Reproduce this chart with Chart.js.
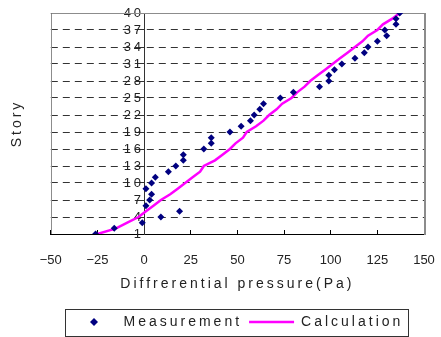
<!DOCTYPE html>
<html>
<head>
<meta charset="utf-8">
<script src="https://cdn.jsdelivr.net/npm/chart.js@4/dist/chart.umd.min.js"></script>
<style>
  body { margin: 0; background: #fff; }
</style>
</head>
<body>
<canvas id="c" width="441" height="337"></canvas>
<script>
const stories = [1, 2, 3, 4, 5, 6, 7, 8, 9, 10, 11, 12, 13, 14, 15, 16, 17, 18, 19, 20,
	21, 22, 23, 24, 25, 26, 27, 28, 29, 30, 31, 32, 33, 34, 35, 36, 37, 38, 39, 40];
const measured = [-26, -16, -1, 9, 19, 1, 3, 4, 1, 4, 6, 13, 17, 21, 21, 32, 36, 36, 46, 52,
	57, 59, 62, 64, 73, 80, 94, 99, 99, 102, 106, 113, 118, 120, 125, 130, 129, 135, 135, 137];
const calculated = [-25, -15, -9, -3, 1, 5, 9, 14, 18, 22, 26, 30, 32, 38, 42, 46, 49, 53, 55, 60,
	64, 67, 71, 74, 79, 82, 86, 89, 93, 97, 101, 105, 109, 113, 117, 120, 125, 128, 133, 137];
const yTicks = [1, 4, 7, 10, 13, 16, 19, 22, 25, 28, 31, 34, 37, 40];
const seriesNames = ['Measurement', 'Calculation'];

const FONT = 'Liberation Sans, Arial, sans-serif';
const TEXT = '#222';
const SPACING = '3px';

// small diamond for the legend marker (rectRot would get stretched by pointStyleWidth)
const diamond = document.createElement('canvas');
diamond.width = 8;
diamond.height = 8;
const dctx = diamond.getContext('2d');
dctx.fillStyle = '#000080';
dctx.beginPath();
dctx.moveTo(4, 0);
dctx.lineTo(8, 4);
dctx.lineTo(4, 8);
dctx.lineTo(0, 4);
dctx.closePath();
dctx.fill();

const toPoints = (ys) => stories.map((s, i) => ({ x: ys[i], y: s }));

// wide letter spacing for titles, y labels and legend; none for the x tick labels
const spacing = {
	id: 'spacing',
	beforeUpdate(chart) {
		chart.ctx.letterSpacing = SPACING;
	},
	beforeDraw(chart) {
		chart.ctx.letterSpacing = SPACING;
		const xs = chart.scales.x;
		if (xs && !xs._plainLabels) {
			const orig = xs.drawLabels;
			xs.drawLabels = function (area) {
				chart.ctx.letterSpacing = '0px';
				orig.call(this, area);
				chart.ctx.letterSpacing = SPACING;
			};
			xs._plainLabels = true;
		}
	}
};

const frame = {
	id: 'frame',
	beforeDatasetsDraw(chart) {
		const { ctx, chartArea: a } = chart;
		ctx.save();
		ctx.strokeStyle = '#8c8c8c';
		ctx.lineWidth = 1;
		ctx.beginPath();
		ctx.moveTo(Math.round(a.left) + 0.5, a.bottom);
		ctx.lineTo(Math.round(a.left) + 0.5, Math.round(a.top) + 0.5);
		ctx.lineTo(a.right, Math.round(a.top) + 0.5);
		ctx.stroke();
		ctx.lineWidth = 2;
		ctx.beginPath();
		ctx.moveTo(Math.round(a.right) + 1, a.top);
		ctx.lineTo(Math.round(a.right) + 1, a.bottom + 1);
		ctx.stroke();
		ctx.restore();
	},
	afterDraw(chart) {
		const boxes = chart.legend && chart.legend.legendHitBoxes;
		if (!boxes || !boxes.length) return;
		const left = Math.min(...boxes.map((b) => b.left)) - 6;
		const right = Math.max(...boxes.map((b) => b.left + b.width)) + 5;
		const mid = boxes[0].top + boxes[0].height / 2;
		const ctx = chart.ctx;
		ctx.save();
		ctx.strokeStyle = '#333';
		ctx.lineWidth = 1;
		ctx.strokeRect(Math.round(left) + 0.5, Math.round(mid - 13.5) + 0.5, Math.round(right - left), 27);
		ctx.restore();
	}
};

new Chart(document.getElementById('c'), {
	type: 'scatter',
	data: {
		datasets: [
			{
				label: seriesNames[0],
				data: toPoints(measured),
				pointStyle: 'rectRot',
				pointRadius: 3.5,
				pointBackgroundColor: '#000080',
				pointBorderColor: '#000080',
				pointBorderWidth: 0,
				backgroundColor: '#000080',
				borderColor: '#000080'
			},
			{
				label: seriesNames[1],
				data: toPoints(calculated),
				showLine: true,
				pointRadius: 0,
				pointStyle: 'line',
				borderColor: '#ff00ff',
				backgroundColor: '#ff00ff',
				borderWidth: 2.5,
				tension: 0
			}
		]
	},
	options: {
		responsive: false,
		animation: false,
		events: [],
		layout: { padding: { left: 5, right: 17, top: 13, bottom: -2 } },
		scales: {
			x: {
				type: 'linear',
				position: 'bottom',
				min: -50,
				max: 150,
				// tick padding would otherwise also be added to the side paddings
				afterFit: (axis) => {
					axis.paddingLeft = 0;
					axis.paddingRight = 0;
				},
				ticks: {
					stepSize: 25,
					padding: 23,
					maxRotation: 0,
					color: TEXT,
					font: { family: FONT, size: 13 },
					callback: (v) => (v < 0 ? '\u2212' + Math.abs(v) : String(v))
				},
				grid: { drawOnChartArea: false, tickLength: -4, color: '#000' },
				border: { color: '#000', width: 1 },
				title: {
					display: true,
					text: 'Diffrerential pressure(Pa)',
					color: TEXT,
					font: { family: FONT, size: 14 },
					padding: { top: -16, bottom: 15.6 }
				}
			},
			y: {
				type: 'linear',
				position: { x: 0 },
				min: 1,
				max: 40,
				afterBuildTicks: (axis) => {
					axis.ticks = yTicks.map((v) => ({ value: v }));
				},
				// the axis sits inside the plot at x = 0, so it takes no layout room
				afterFit: (axis) => {
					axis.width = 0;
					axis.paddingTop = 0;
					axis.paddingBottom = 0;
				},
				ticks: {
					autoSkip: false,
					padding: 13,
					color: TEXT,
					font: { family: FONT, size: 13 }
				},
				grid: { color: '#333', lineWidth: 1, tickLength: 4, tickBorderDash: [] },
				border: { color: '#333', width: 1, dash: [7, 5] }
			},
			story: {
				type: 'linear',
				position: 'left',
				grid: { display: false, drawTicks: false },
				border: { display: false },
				ticks: { display: false },
				title: {
					display: true,
					text: 'Story',
					color: TEXT,
					font: { family: FONT, size: 14 },
					padding: { top: 4, bottom: 25 }
				}
			}
		},
		plugins: {
			tooltip: { enabled: false },
			legend: {
				position: 'bottom',
				fullSize: false,
				labels: {
					usePointStyle: true,
					pointStyleWidth: 45,
					padding: 7,
					color: TEXT,
					font: { family: FONT, size: 14 },
					generateLabels(chart) {
						const items = Chart.defaults.plugins.legend.labels.generateLabels(chart);
						items[0].pointStyle = diamond;
						return items;
					}
				}
			}
		}
	},
	plugins: [spacing, frame]
});
</script>
</body>
</html>
